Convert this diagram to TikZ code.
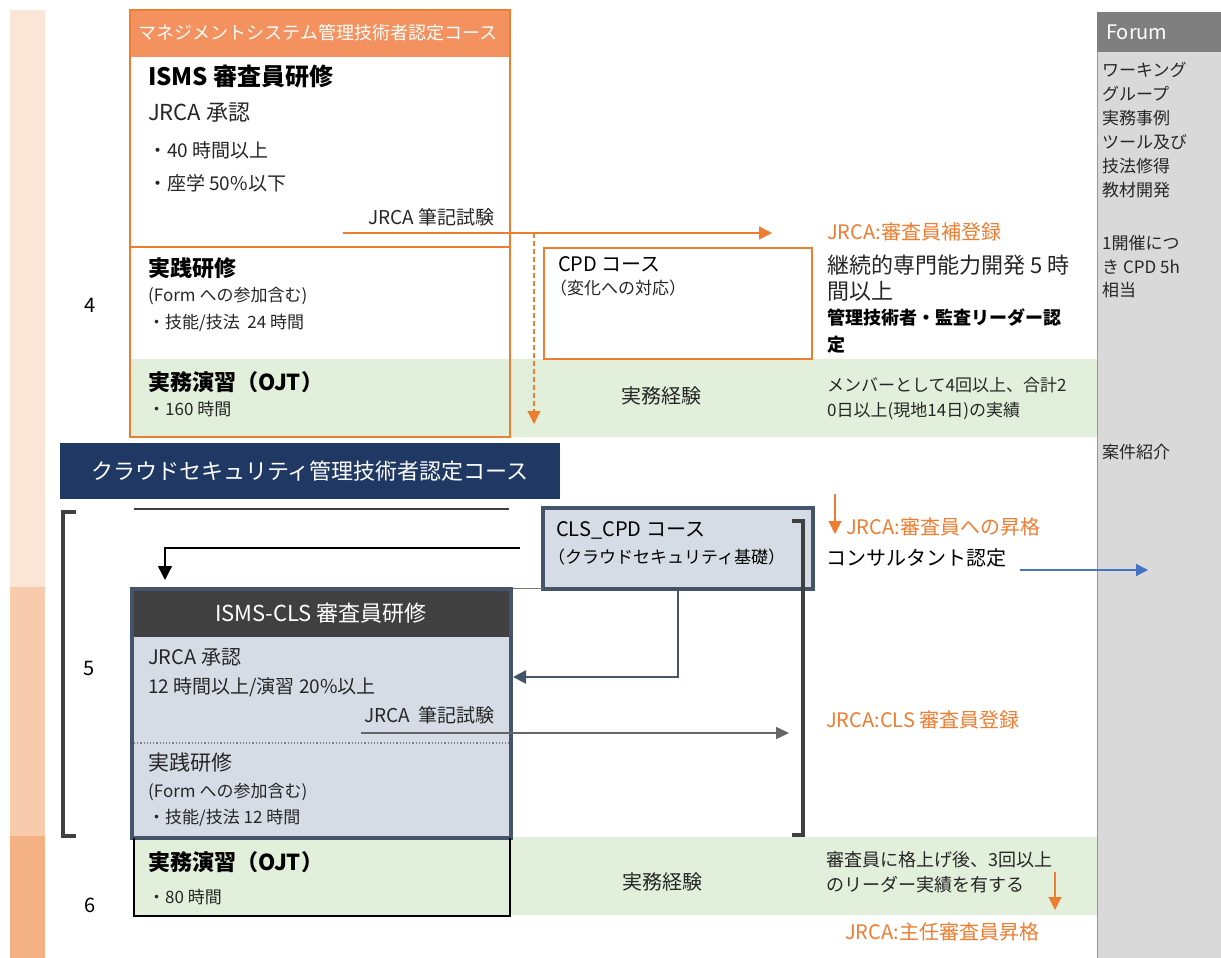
\documentclass[tikz,border=0pt]{standalone}
\usepackage{fontspec}
\setmainfont{Noto Sans CJK JP}
\usetikzlibrary{arrows.meta}
\definecolor{stripA}{HTML}{FBE5D6}
\definecolor{stripB}{HTML}{F8CBAD}
\definecolor{stripC}{HTML}{F4B183}
\definecolor{orgline}{HTML}{ED7D31}
\definecolor{orghead}{HTML}{F3915F}
\definecolor{greenbg}{HTML}{E2EFDA}
\definecolor{navy}{HTML}{203864}
\definecolor{slate}{HTML}{44546A}
\definecolor{slatebg}{HTML}{D6DCE5}
\definecolor{darkhead}{HTML}{404040}
\definecolor{forumbg}{HTML}{D9D9D9}
\definecolor{forumhd}{HTML}{7F7F7F}
\definecolor{blueln}{HTML}{4472C4}
\definecolor{txtgray}{HTML}{262626}
\newcommand{\fsz}[1]{\fontsize{#1}{#1}\selectfont}
\begin{document}
\begin{tikzpicture}[x=1pt,y=-1pt,
  lbl/.style={anchor=west,inner sep=0pt,text=txtgray},
  lblr/.style={anchor=east,inner sep=0pt,text=txtgray},
  lblc/.style={anchor=center,inner sep=0pt,text=txtgray},
  orgtext/.style={anchor=west,inner sep=0pt,text=orgline},
  forumtxt/.style={anchor=west,inner sep=0pt,text=txtgray,font=\fsz{17}},
  orgarrow/.style={draw=orgline,line width=1.5pt,-{Triangle[length=13pt,width=13pt]}},
  slatearrow/.style={draw=slate,line width=2.5pt,-{Triangle[length=13pt,width=13pt]}},
  grayarrow/.style={draw=darkhead!80,line width=1.5pt,-{Triangle[length=13pt,width=12pt]}},
  bracketline/.style={draw=darkhead,line width=4pt},
]
\useasboundingbox (0,0) rectangle (1221,958);
\fill[white] (0,0) rectangle (1221,958);

% left strip
\fill[stripA] (10,10) rectangle (45,587);
\fill[stripB] (10,587) rectangle (45,836);
\fill[stripC] (10,836) rectangle (45,958);

% forum column
\fill[forumbg] (1097,12) rectangle (1221,958);
\draw[forumhd!80,line width=1pt] (1097,12) -- (1097,958);
\fill[forumhd] (1097,12) rectangle (1221,52);
\node[anchor=west,inner sep=0pt,text=white,font=\fsz{20}] (forum) at (1106,32) {Forum};
\node[forumtxt] (f1) at (1102,70) {ワーキング};
\node[forumtxt] (f2) at (1102,94) {グループ};
\node[forumtxt] (f3) at (1102,118) {実務事例};
\node[forumtxt] (f4) at (1102,142) {ツール及び};
\node[forumtxt] (f5) at (1102,166) {技法修得};
\node[forumtxt] (f6) at (1102,190) {教材開発};
\node[forumtxt] (f7) at (1102,243) {1開催につ};
\node[forumtxt] (f8) at (1102,267) {き CPD 5h};
\node[forumtxt] (f9) at (1102,290) {相当};
\node[forumtxt] (f10) at (1102,452) {案件紹介};

% green bands
\fill[greenbg] (130,359) rectangle (1097,437);
\fill[greenbg] (134,837) rectangle (1097,915);

% top orange box
\fill[orghead] (130,10) rectangle (510,57);
\draw[orgline,line width=2pt] (130,10) rectangle (510,437);
\draw[orgline,line width=1.5pt] (130,247) -- (510,247);
\node[anchor=center,inner sep=0pt,text=white,font=\fsz{18}] (hdr) at (318,33) {マネジメントシステム管理技術者認定コース};
\node[lbl,font=\fsz{24}\bfseries,text=black] (isms) at (148,76) {ISMS 審査員研修};
\node[lbl,font=\fsz{22}] (jrca1) at (148,113) {JRCA 承認};
\node[lbl,font=\fsz{19}] (h40) at (148,150) {・40 時間以上};
\node[lbl,font=\fsz{19}] (zagaku) at (148,183) {・座学 50\%以下};
\node[lblr,font=\fsz{19}] (exam1) at (495,217) {JRCA 筆記試験};
\node[lbl,font=\fsz{22}\bfseries,text=black] (jissen1) at (148,268) {実践研修};
\node[lbl,font=\fsz{17}] (form1) at (148,296) {(Form への参加含む)};
\node[lbl,font=\fsz{17}] (gino1) at (148,323) {・技能/技法\ \ 24 時間};
\node[lbl,font=\fsz{22}\bfseries,text=black] (ojt1) at (148,382) {実務演習（OJT）};
\node[lbl,font=\fsz{17}] (h160) at (148,409) {・160 時間};
\node[lblc,font=\fsz{20},text=black] (num4) at (90,305) {4};

% exam arrow and dashed arrow
\coordinate (ex1s) at (343,233);
\coordinate (ex1e) at (772,233);
\draw[orgarrow] (ex1s) -- (ex1e);
\coordinate (dashs) at (534,233);
\coordinate (dashe) at (534,424);
\draw[orgarrow,dash pattern=on 5pt off 3pt,line width=1.2pt] (dashs) -- (dashe);

% CPD box
\draw[orgline,line width=2pt,fill=white] (544,248) rectangle (812,359);
\node[lbl,font=\fsz{20},text=black] (cpd1) at (558,264) {CPD コース};
\node[lbl,font=\fsz{17}] (cpd2) at (550,288) {（変化への対応）};

% right column top
\node[orgtext,font=\fsz{20}] (reg1) at (827,232) {JRCA:審査員補登録};
\node[lbl,font=\fsz{22}] (cont1) at (827,265) {継続的専門能力開発\ 5 時};
\node[lbl,font=\fsz{22}] (cont2) at (827,291) {間以上};
\node[lbl,font=\fsz{18}\bfseries,text=black] (lead1) at (827,318) {管理技術者・監査リーダー認};
\node[lbl,font=\fsz{18}\bfseries,text=black] (lead2) at (827,345) {定};
\node[lblc,font=\fsz{20}] (exp1) at (661,396) {実務経験};
\node[lbl,font=\fsz{17}] (mem1) at (827,385) {メンバーとして4回以上、合計2};
\node[lbl,font=\fsz{17}] (mem2) at (827,411) {0日以上(現地14日)の実績};

% navy bar
\fill[navy] (60,443) rectangle (560,499);
\node[anchor=center,inner sep=0pt,text=white,font=\fsz{22}] (cloud) at (310,471) {クラウドセキュリティ管理技術者認定コース};

% lower section
\draw[bracketline] (76,512) -- (63,512) -- (63,836) -- (76,836);
\node[lblc,font=\fsz{20},text=black] (num5) at (89,668) {5};
\draw[darkhead,line width=1.5pt] (134,509) -- (509,509);

% CLS_CPD box
\draw[slate,line width=4pt,fill=slatebg] (543,508) rectangle (813,589);
\node[lbl,font=\fsz{20},text=black] (cls1) at (556,530) {CLS\_CPD コース};
\node[lbl,font=\fsz{17},text=black] (cls2) at (548,557) {（クラウドセキュリティ基礎）};

% top-left arrow into ISMS-CLS
\coordinate (ar2s) at (520,548);
\coordinate (ar2c) at (165,548);
\coordinate (ar2e) at (165,580);
\draw[line width=1.5pt,-{Triangle[length=14pt,width=14pt]}] (ar2s) -- (ar2c) -- (ar2e);

% ISMS-CLS box
\draw[darkhead!70,line width=1pt] (510,588) -- (543,588);
\draw[slate,line width=4pt,fill=slatebg] (132,589) rectangle (511,838);
\fill[darkhead] (134,591) rectangle (509,637);
\node[anchor=center,inner sep=0pt,text=white,font=\fsz{22}] (clshead) at (321,613) {ISMS-CLS 審査員研修};
\node[lbl,font=\fsz{20}] (jrca2) at (148,657) {JRCA 承認};
\node[lbl,font=\fsz{19}] (h12) at (148,687) {12 時間以上/演習 20\%以上};
\node[lblr,font=\fsz{19}] (exam2) at (495,715) {JRCA\ \ 筆記試験};
\draw[gray,line width=1.2pt,dotted] (134,743) -- (509,743);
\node[lbl,font=\fsz{21}] (jissen2) at (148,763) {実践研修};
\node[lbl,font=\fsz{17}] (form2) at (148,792) {(Form への参加含む)};
\node[lbl,font=\fsz{17}] (gino2) at (148,818) {・技能/技法\ 12 時間};

% arrow CLS_CPD -> ISMS-CLS
\coordinate (ar3s) at (678,589);
\coordinate (ar3c) at (678,677);
\coordinate (ar3e) at (513,677);
\draw[slatearrow] (ar3s) -- (ar3c) -- (ar3e);

% exam2 arrow
\coordinate (ex2s) at (361,733);
\coordinate (ex2e) at (789,733);
\draw[grayarrow] (ex2s) -- (ex2e);

% right bracket
\draw[bracketline] (792,521) -- (803,521) -- (803,835) -- (792,835);

% right column middle
\coordinate (up1s) at (835,494);
\coordinate (up1e) at (835,534);
\draw[orgarrow,line width=1.2pt] (up1s) -- (up1e);
\node[orgtext,font=\fsz{20}] (promo1) at (846,527) {JRCA:審査員への昇格};
\node[lbl,font=\fsz{20},text=black] (consult) at (826,558) {コンサルタント認定};
\coordinate (bls) at (1020,570);
\coordinate (ble) at (1148,570);
\draw[blueln,line width=1.5pt,-{Triangle[length=12pt,width=12pt]}] (bls) -- (ble);
\node[orgtext,font=\fsz{20}] (clsreg) at (826,720) {JRCA:CLS 審査員登録};

% bottom OJT box
\draw[black,line width=1.5pt] (134,838) -- (134,916) -- (510,916) -- (510,838);
\node[lbl,font=\fsz{22}\bfseries,text=black] (ojt2) at (148,862) {実務演習（OJT）};
\node[lbl,font=\fsz{17}] (h80) at (148,897) {・80 時間};
\node[lblc,font=\fsz{20},text=black] (num6) at (90,905) {6};
\node[lblc,font=\fsz{20}] (exp2) at (662,882) {実務経験};
\node[lbl,font=\fsz{18}] (lead3) at (826,860) {審査員に格上げ後、3回以上};
\node[lbl,font=\fsz{18}] (lead4) at (826,885) {のリーダー実績を有する};
\coordinate (up2s) at (1055,872);
\coordinate (up2e) at (1055,910);
\draw[orgarrow,line width=1.2pt] (up2s) -- (up2e);
\node[orgtext,font=\fsz{20}] (chief) at (845,932) {JRCA:主任審査員昇格};
\end{tikzpicture}
\end{document}
